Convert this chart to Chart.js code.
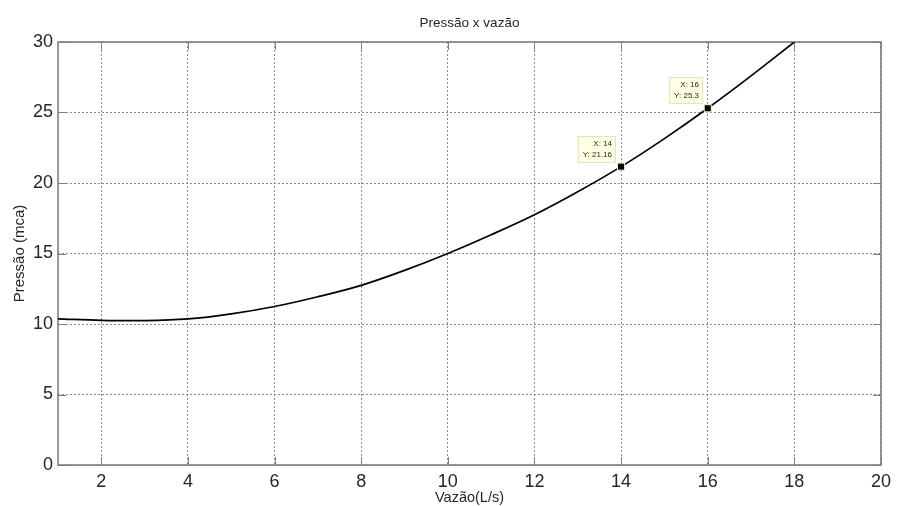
<!DOCTYPE html>
<html>
<head>
<meta charset="utf-8">
<title>Pressão x vazão</title>
<script src="https://cdn.jsdelivr.net/npm/chart.js@4/dist/chart.umd.min.js"></script>
<style>
  html, body { margin: 0; padding: 0; background: #fff; }
  #wrap { width: 897px; height: 506px; position: relative; }
</style>
</head>
<body>
<div id="wrap"><canvas id="chart"></canvas></div>
<script>
// Curva de pressão em função da vazão
const flowValues = [1, 2, 3, 4, 5, 6, 7, 8, 9, 10, 11, 12, 13, 14, 15, 16, 17, 18];
const pressureValues = [10.37, 10.26, 10.24, 10.36, 10.72, 11.24, 11.93, 12.74, 13.8, 15.0, 16.33, 17.75, 19.38, 21.16, 23.15, 25.3, 27.6, 30.0];

// Pontos marcados (data tips)
const tipFlow = [14, 16];
const tipPressure = [21.16, 25.3];

// Marcas dos eixos
const xTickValues = [2, 4, 6, 8, 10, 12, 14, 16, 18, 20];
const yTickValues = [0, 5, 10, 15, 20, 25, 30];

const titleText = 'Pressão x vazão';
const xLabel = 'Vazão(L/s)';
const yLabel = 'Pressão (mca)';

const FONT = "'Liberation Sans', Arial, Helvetica, sans-serif";
const TEXT = '#262626';
const AXIS = '#7f7f7f';
const GRID = '#8a8a8a';

Chart.defaults.font.family = FONT;

const curve = flowValues.map((x, i) => ({ x, y: pressureValues[i] }));
const tips = tipFlow.map((x, i) => ({ x, y: tipPressure[i] }));

// Caixa do gráfico, marcas internas e título
const framePlugin = {
  id: 'frame',
  beforeDatasetsDraw(chart) {
    const { ctx, chartArea: a, scales: { x, y } } = chart;
    ctx.save();
    ctx.strokeStyle = AXIS;
    ctx.lineWidth = 1;
    const tl = 8;
    ctx.beginPath();
    xTickValues.forEach(v => {
      const px = Math.round(x.getPixelForValue(v)) + 0.5;
      ctx.moveTo(px, a.bottom); ctx.lineTo(px, a.bottom - tl);
      ctx.moveTo(px, a.top); ctx.lineTo(px, a.top + tl);
    });
    yTickValues.forEach(v => {
      const py = Math.round(y.getPixelForValue(v)) + 0.5;
      ctx.moveTo(a.left, py); ctx.lineTo(a.left + tl, py);
      ctx.moveTo(a.right, py); ctx.lineTo(a.right - tl, py);
    });
    ctx.stroke();
    ctx.lineWidth = 1.6;
    ctx.strokeRect(a.left, a.top, a.right - a.left, a.bottom - a.top);
    ctx.restore();
  },
  afterDraw(chart) {
    const { ctx, chartArea: a } = chart;
    ctx.save();
    ctx.fillStyle = TEXT;
    ctx.font = '13.5px ' + FONT;
    ctx.textAlign = 'center';
    ctx.textBaseline = 'alphabetic';
    ctx.fillText(titleText, (a.left + a.right) / 2, 27);
    ctx.restore();
  }
};

// Caixas de texto dos pontos marcados
const tipPlugin = {
  id: 'datatips',
  afterDatasetsDraw(chart) {
    const { ctx, scales: { x, y } } = chart;
    ctx.save();
    ctx.font = '8px ' + FONT;
    tipFlow.forEach((fx, i) => {
      const px = x.getPixelForValue(fx);
      const py = y.getPixelForValue(tipPressure[i]);
      const l1 = 'X: ' + fx;
      const l2 = 'Y: ' + tipPressure[i];
      const w = Math.max(ctx.measureText(l1).width, ctx.measureText(l2).width) + 9;
      const h = 27;
      const right = Math.round(px - 5);
      const bottom = Math.round(py - 4);
      ctx.fillStyle = '#ffffe2';
      ctx.fillRect(right - w, bottom - h, w, h);
      ctx.strokeStyle = '#e2e2c4';
      ctx.lineWidth = 1;
      ctx.strokeRect(right - w + 0.5, bottom - h + 0.5, w - 1, h - 1);
      ctx.fillStyle = TEXT;
      ctx.textAlign = 'right';
      ctx.textBaseline = 'middle';
      ctx.fillText(l1, right - 4, bottom - h + 8);
      ctx.fillText(l2, right - 4, bottom - h + 19);
    });
    ctx.restore();
  }
};

new Chart(document.getElementById('chart'), {
  type: 'line',
  data: {
    datasets: [
      {
        data: curve,
        borderColor: '#000',
        borderWidth: 1.7,
        pointRadius: 0,
        tension: 0.35,
        fill: false,
        order: 2
      },
      {
        data: tips,
        showLine: false,
        pointStyle: 'rect',
        pointRadius: 5,
        pointBackgroundColor: '#000',
        pointBorderColor: '#f4f4c8',
        pointBorderWidth: 1,
        order: 1
      }
    ]
  },
  options: {
    responsive: true,
    maintainAspectRatio: false,
    animation: false,
    devicePixelRatio: 1,
    layout: { padding: { top: 42, right: 14, left: 0, bottom: 0 } },
    plugins: {
      legend: { display: false },
      tooltip: { enabled: false },
      title: { display: false }
    },
    scales: {
      x: {
        type: 'linear',
        min: 1,
        max: 20,
        afterBuildTicks: s => { s.ticks = xTickValues.map(v => ({ value: v })); },
        afterFit: s => { s.height = 41; },
        grid: { color: GRID, lineWidth: 1, drawTicks: false },
        border: { display: false, dash: [2, 2] },
        ticks: { color: TEXT, font: { size: 18 }, padding: 6, maxRotation: 0, autoSkip: false },
        title: { display: true, text: xLabel, color: TEXT, font: { size: 14.5, lineHeight: 1.0 }, padding: { top: 0, bottom: 1 } }
      },
      y: {
        type: 'linear',
        min: 0,
        max: 30,
        afterBuildTicks: s => { s.ticks = yTickValues.map(v => ({ value: v })); },
        afterFit: s => { s.width = 58; },
        grid: { color: GRID, lineWidth: 1, drawTicks: false },
        border: { display: false, dash: [2, 2] },
        ticks: { color: TEXT, font: { size: 18 }, padding: 5, autoSkip: false },
        title: { display: true, text: yLabel, color: TEXT, font: { size: 15 }, padding: { top: 11, bottom: 0 } }
      }
    }
  },
  plugins: [framePlugin, tipPlugin]
});
</script>
</body>
</html>
